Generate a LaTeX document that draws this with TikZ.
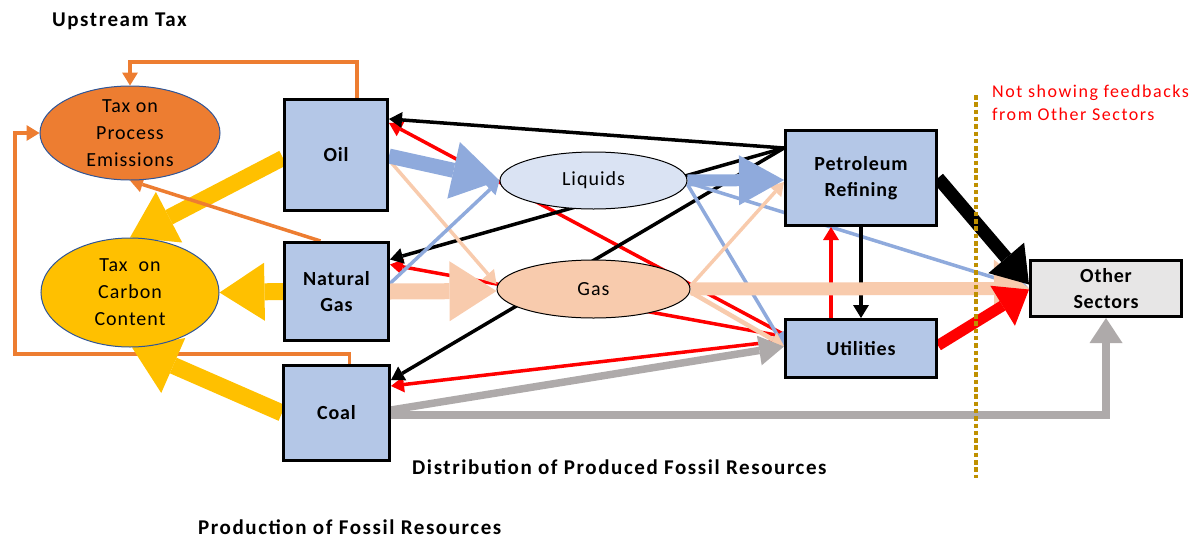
\documentclass[tikz,border=0pt]{standalone}
\usepackage{fontspec}
\setmainfont{Carlito}
\newfontfamily\boxfont{Carlito}[LetterSpace=4]
\newfontfamily\ellfont{Carlito}[LetterSpace=5]
\newfontfamily\titfont{Carlito}[LetterSpace=7.5]
\newfontfamily\redfont{Carlito}[LetterSpace=8.5]
\usetikzlibrary{arrows.meta,shapes.geometric,backgrounds}
\definecolor{boxblue}{HTML}{B4C7E7}
\definecolor{taxorange}{HTML}{ED7D31}
\definecolor{taxgold}{HTML}{FFC000}
\definecolor{liqfill}{HTML}{DAE3F3}
\definecolor{gasfill}{HTML}{F8CBAD}
\definecolor{arrblue}{HTML}{8FAADC}
\definecolor{arrpeach}{HTML}{F8CBAD}
\definecolor{arrgray}{HTML}{AEAAAA}
\definecolor{othergray}{HTML}{E7E6E6}
\definecolor{dotgold}{HTML}{BF9000}
\definecolor{ellborder}{HTML}{2F5597}
\tikzset{
  box/.style={draw=black, line width=3pt, fill=boxblue, align=center,
    font={\boxfont\fontsize{20}{26}\selectfont\bfseries}},
  taxell/.style={ellipse, draw=ellborder, line width=1pt, inner sep=0pt},
  flowell/.style={ellipse, draw=black, line width=1pt, inner sep=0pt},
  elltext/.style={align=center, font={\ellfont\fontsize{20}{27}\selectfont}},
  head/.style 2 args={-{Triangle[length=#1pt 0 0,width=#2pt 0 0,line width=0pt 0 0]}},
  thin/.style={line width=3.5pt, head={13}{16}},
  blk/.style={thin, draw=black},
  rd/.style={thin, draw=red},
  blu/.style={thin, draw=arrblue},
  pch/.style={thin, draw=arrpeach},
  orln/.style={thin, draw=taxorange},
  yel/.style={draw=taxgold},
  dotline/.style={draw=dotgold, line width=4.5pt, dash pattern=on 4.5pt off 2.8pt},
  title/.style={font={\titfont\fontsize{21}{26}\selectfont\bfseries}, inner sep=0pt},
}
\begin{document}
\begin{tikzpicture}[x=1pt,y=-1pt]
\useasboundingbox (0,0) rectangle (1202,544);

% nodes
\node[box, minimum width=103pt, minimum height=111pt] (oil) at (336,155) {Oil};
\node[box, minimum width=104pt, minimum height=98pt] (ng) at (336.5,291.5) {Natural\\Gas};
\node[box, minimum width=106pt, minimum height=95pt] (coal) at (336.5,413) {Coal};
\node[box, minimum width=151pt, minimum height=95pt] (pr) at (861,178) {Petroleum\\Refining};
\node[box, minimum width=151pt, minimum height=58pt] (util) at (861,348.5) {Utilities};
\node[box, fill=othergray, minimum width=151pt, minimum height=56pt] (other) at (1106,288.5) {Other\\Sectors};

\node[taxell, fill=taxorange, minimum width=180pt, minimum height=94pt,
  label={[elltext]center:Tax on\\Process\\Emissions}] (procem) at (130,133) {};
\node[taxell, fill=taxgold, minimum width=178pt, minimum height=109pt,
  label={[elltext]center:Tax\ \ on\\Carbon\\Content}] (carbon) at (130,292.5) {};
\node[flowell, fill=liqfill, minimum width=187pt, minimum height=57pt,
  label={[elltext]center:Liquids}] (liq) at (593.5,180.5) {};
\node[flowell, fill=gasfill, minimum width=193pt, minimum height=58pt,
  label={[elltext]center:Gas}] (gas) at (593.5,289) {};

% texts
\node[title, anchor=base west] (uptax) at (52,26) {Upstream Tax};
\node[title, anchor=base west] (distr) at (412,474) {Distribution of Produced Fossil Resources};
\node[title, anchor=base west] (prod) at (198,534) {Production of Fossil Resources};
\node[anchor=base west, inner sep=0pt, align=left, text=red,
  font={\redfont\fontsize{18}{23}\selectfont}] (note) at (992,120) {Not showing feedbacks\\from Other Sectors};

\begin{scope}[on background layer]
% orange tax feedback lines
\draw[orln] ([xshift=21pt]oil.north) -- ++(0,-36) -| (procem.north);
\draw[orln] ([xshift=13pt]coal.north) -- ++(0,-10) -- ++(-334.5,0) |- (procem.west);
% yellow carbon arrows
\draw[yel, line width=16pt, head={44}{57}] ([yshift=-3pt]oil.west) -- (carbon.north);
\draw[yel, line width=17pt, head={45}{58}] (ng.west) -- (carbon.east);
\draw[yel, line width=17pt, head={45}{60}] (coal.west) -- ([xshift=2pt]carbon.south);
\draw[orln] ([xshift=-16pt]ng.north) -- (procem.south);

% thin feedback lines
\draw[rd] ([yshift=14pt]util.west) -- ([yshift=32pt]oil.east);
\draw[rd] ([yshift=12pt]util.west) -- ([yshift=27pt]ng.east);
\draw[rd] ([yshift=8pt]util.west) -- ([yshift=27pt]coal.east);
\draw[blk] ([yshift=-19pt]pr.north west) -- ([yshift=36pt]oil.east);
\draw[blk] ([yshift=-19pt]pr.north west) -- ([yshift=32pt]ng.east);
\draw[blk] ([yshift=-19pt]pr.north west) -- ([yshift=33pt]coal.east);

\draw[pch] ([yshift=-5pt]oil.east) -- ([yshift=5pt]gas.west);
\draw[blu] ([yshift=8pt]ng.east) -- (liq.west);
\draw[blu] ([yshift=-2pt]liq.east) -- (other.west);
\draw[blu] ([yshift=-4pt]liq.east) -- ([yshift=2.5pt]util.west);
\draw[pch] ([yshift=3pt]gas.east) -- ([yshift=-4pt]pr.west);
\draw[pch, line width=4.5pt] ([yshift=-3pt]gas.east) -- ([yshift=2.5pt]util.west);

\draw[blk] (pr.south) -- (util.north);
\draw[rd] ([xshift=-30pt]util.north) -- ([xshift=-30pt]pr.south);

% gray coal arrows
\draw[draw=arrgray, line width=7.5pt, head={25}{30}] ([yshift=3pt]coal.east) -- ([yshift=2pt]util.west);
\draw[draw=arrgray, line width=7.5pt, line join=miter, head={25}{33}] ([yshift=-2pt]coal.east) -| (other.south);

% thick flows
\draw[draw=arrblue, line width=15pt, head={47}{58}] ([yshift=-1pt]oil.east) -- (liq.west);
\draw[draw=arrpeach, line width=16pt, head={47}{60}] (ng.east) -- ([yshift=-2pt]gas.west);
\draw[draw=arrblue, line width=12pt, head={45}{50}] (liq.east) -- ([yshift=-2pt]pr.west);
\draw[draw=arrpeach, line width=13pt, head={35}{58}] (gas.east) -- (other.west);
\draw[draw=black, line width=13pt, head={35}{47}] (pr.east) -- ([yshift=4pt]other.west);
\draw[draw=red, line width=11pt, head={31}{47}] ([yshift=3pt]util.east) -- ([yshift=-1pt]other.west);
\end{scope}

\draw[dotline] (976,95) -- (976,478);
\end{tikzpicture}
\end{document}
